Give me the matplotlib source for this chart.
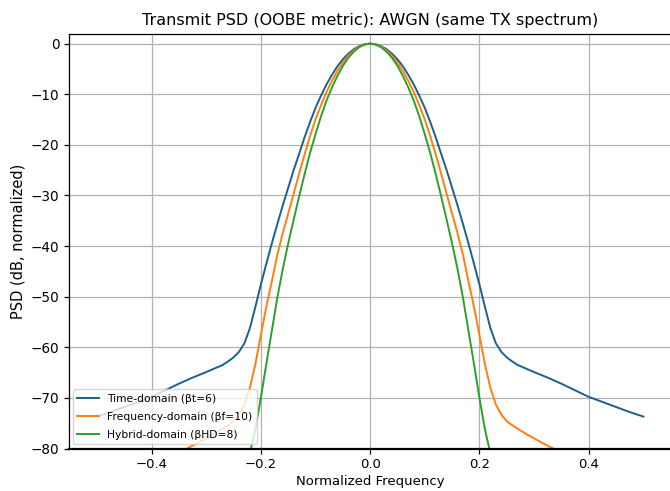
import matplotlib
matplotlib.use("Agg")
import matplotlib.pyplot as plt
import numpy as np

# Positive-frequency halves; the spectra are symmetric about 0
freq_time = [0.0, 0.01, 0.02, 0.03, 0.04, 0.05, 0.06, 0.07, 0.08, 0.09, 0.10, 0.11,
             0.12, 0.13, 0.14, 0.15, 0.16, 0.17, 0.18, 0.19, 0.20, 0.21, 0.22, 0.23,
             0.24, 0.25, 0.26, 0.27, 0.285, 0.30, 0.325, 0.35, 0.375, 0.40, 0.425,
             0.45, 0.475, 0.50]
psd_time = [0.0, -0.13, -0.5, -1.1, -2.0, -3.1, -4.5, -6.2, -8.1, -10.3, -12.7, -15.5,
            -18.5, -21.8, -25.0, -28.5, -32.0, -35.7, -39.5, -43.5, -47.6, -52.0, -56.2,
            -59.2, -60.9, -62.0, -62.8, -63.5, -64.2, -64.9, -66.0, -67.2, -68.5, -69.8,
            -70.8, -71.8, -72.8, -73.7]

freq_freq = [0.0, 0.01, 0.02, 0.03, 0.04, 0.05, 0.06, 0.07, 0.08, 0.09, 0.10, 0.11,
             0.12, 0.13, 0.14, 0.15, 0.16, 0.17, 0.18, 0.19, 0.20, 0.21, 0.22, 0.23,
             0.24, 0.25, 0.26, 0.27, 0.285, 0.30, 0.315, 0.335]
psd_freq = [0.0, -0.15, -0.6, -1.35, -2.4, -3.75, -5.4, -7.4, -9.6, -12.2, -15.0, -18.3,
            -21.9, -25.7, -29.7, -33.6, -37.5, -41.8, -47.0, -52.0, -57.6, -63.3, -68.0,
            -71.3, -73.3, -74.6, -75.4, -76.1, -77.1, -78.0, -78.9, -80.0]

freq_hybrid = [0.0, 0.01, 0.02, 0.03, 0.04, 0.05, 0.06, 0.07, 0.08, 0.09, 0.10, 0.11,
               0.12, 0.13, 0.14, 0.15, 0.16, 0.17, 0.18, 0.19, 0.20, 0.21, 0.218]
psd_hybrid = [0.0, -0.18, -0.7, -1.6, -2.8, -4.4, -6.4, -8.7, -11.3, -14.4, -17.9, -21.6,
              -25.8, -30.2, -34.8, -39.5, -44.6, -50.3, -56.8, -63.3, -70.0, -76.2, -80.0]

labels = ["Time-domain (\u03b2t=6)", "Frequency-domain (\u03b2f=10)", "Hybrid-domain (\u03b2HD=8)"]
colors = ["#1f5f8f", "#ff7f0e", "#2ca02c"]

title = "Transmit PSD (OOBE metric): AWGN (same TX spectrum)"
xlabel = "Normalized Frequency"
ylabel = "PSD (dB, normalized)"
xticks = [-0.4, -0.2, 0.0, 0.2, 0.4]
yticks = [0, -10, -20, -30, -40, -50, -60, -70, -80]


def mirror(xh, yh):
    xh = np.asarray(xh, dtype=float)
    yh = np.asarray(yh, dtype=float)
    return np.concatenate([-xh[:0:-1], xh]), np.concatenate([yh[:0:-1], yh])


fig = plt.figure(figsize=(6.70, 4.91), dpi=100)
ax = fig.add_axes([68.5 / 670, 42.5 / 491, (671.8 - 68.5) / 670, (457.5 - 42.5) / 491])

for fx, series, lab, col in zip([freq_time, freq_freq, freq_hybrid],
                                [psd_time, psd_freq, psd_hybrid], labels, colors):
    xs, ys = mirror(fx, series)
    ax.plot(xs, ys, color=col, lw=1.4, label=lab, zorder=2)

ax.set_xlim(-0.552, 0.552)
ax.set_ylim(-80, 2)
ax.set_xticks(xticks)
ax.set_yticks(yticks)
ax.grid(True, color="#b0b0b0", lw=0.9)
ax.tick_params(axis="x", labelsize=9.5, length=3.5, width=0.9, pad=3)
ax.tick_params(axis="y", labelsize=9.8, length=3.5, width=0.9, pad=3)
for s in ax.spines.values():
    s.set_linewidth(0.9)
    s.set_zorder(3)
ax.spines["bottom"].set_linewidth(1.6)
ax.set_title(title, fontsize=11.5, pad=6)
ax.set_xlabel(xlabel, fontsize=9.5, labelpad=3)
ax.set_ylabel(ylabel, fontsize=10.5, labelpad=4)
ax.legend(loc="lower left", fontsize=7.75, framealpha=0.8, handlelength=2.0,
          labelspacing=0.75, borderaxespad=0.4)

fig.savefig("out.png", dpi=100)
